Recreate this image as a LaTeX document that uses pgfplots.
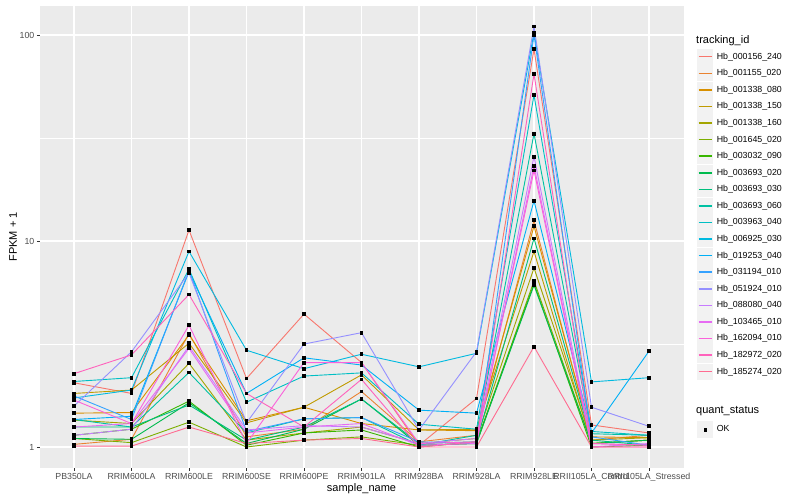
\documentclass[border=0pt]{standalone}
\usepackage{fontspec}
\setmainfont{Liberation Sans}
\usepackage{pgfplots}
\usepackage{pgfplotstable}
\pgfplotsset{compat=1.18}

\definecolor{c1}{HTML}{F8766D}
\definecolor{c2}{HTML}{EA8331}
\definecolor{c3}{HTML}{D89000}
\definecolor{c4}{HTML}{C09B00}
\definecolor{c5}{HTML}{A3A500}
\definecolor{c6}{HTML}{7CAE00}
\definecolor{c7}{HTML}{39B600}
\definecolor{c8}{HTML}{00BB4E}
\definecolor{c9}{HTML}{00BF7D}
\definecolor{c10}{HTML}{00C1A3}
\definecolor{c11}{HTML}{00BFC4}
\definecolor{c12}{HTML}{00BAE0}
\definecolor{c13}{HTML}{00B0F6}
\definecolor{c14}{HTML}{35A2FF}
\definecolor{c15}{HTML}{9590FF}
\definecolor{c16}{HTML}{C77CFF}
\definecolor{c17}{HTML}{E76BF3}
\definecolor{c18}{HTML}{FA62DB}
\definecolor{c19}{HTML}{FF62BC}
\definecolor{c20}{HTML}{FF6C91}
\definecolor{panel}{HTML}{EBEBEB}
\definecolor{keybg}{HTML}{F2F2F2}
\definecolor{ticklab}{HTML}{4D4D4D}
\definecolor{tickcol}{HTML}{333333}

% FPKM + 1 per sample (rows) and tracking id (columns)
\pgfplotstableread{
x  s1   s2   s3   s4   s5   s6   s7   s8   s9   s10  s11  s12  s13  s14  s15  s16  s17  s18  s19  s20
0  2.05 1.03 1.46 1.82 1.35 1.10 1.14 1.10 1.25 1.36 2.08 1.73 1.36 1.77 1.58 1.14 1.25 1.69 2.27 1.01
1  1.82 1.09 1.47 1.89 1.30 1.05 1.22 1.09 1.25 1.25 2.17 1.89 1.41 1.36 2.90 1.22 1.30 1.30 2.80 1.01
2  11.3 3.56 3.50 3.19 2.55 1.32 1.67 1.64 1.60 2.30 7.3  8.9  7.1  7.2  7.0  3.09 3.01 3.9  5.5  1.25
3  2.15 1.12 1.34 1.31 1.08 1.00 1.02 1.04 1.08 1.17 1.65 2.95 1.82 1.19 1.31 1.21 1.17 1.04 1.82 1.04
4  4.42 1.22 1.56 1.56 1.17 1.08 1.17 1.22 1.25 1.37 2.21 2.40 2.71 1.37 3.16 1.27 1.25 2.57 1.25 1.08
5  2.57 1.86 1.30 2.24 1.25 1.12 1.21 1.71 1.71 1.39 2.29 2.82 2.50 1.39 3.59 1.25 1.30 2.57 2.13 1.10
6  1.02 1.06 1.21 1.21 1.04 1.02 1.00 1.02 1.04 1.02 1.29 2.45 1.51 1.06 1.21 1.04 1.02 1.04 1.00 1.00
7  1.72 1.14 1.20 1.22 1.10 1.04 1.06 1.04 1.06 1.14 1.22 2.85 1.46 1.04 2.90 1.10 1.04 1.06 1.06 1.00
8  85.5 12.6 11.8 8.9  7.4  6.4  6.2  6.1  10.3 33.2 51.1 103  15.7 100  110  25.7 23.2 22.0 64.7 3.07
9  1.28 1.08 1.12 1.04 1.08 1.04 1.00 1.04 1.08 1.16 1.19 2.07 1.17 1.12 1.56 1.04 1.00 1.00 1.04 1.00
10 1.17 1.14 1.11 1.08 1.11 1.08 1.02 1.08 1.02 1.14 1.14 2.17 2.92 1.02 1.26 1.02 1.04 1.00 1.02 1.00
}\fpkm

\begin{document}
\begin{tikzpicture}
\useasboundingbox (0,0) rectangle (800pt,500pt);

\begin{axis}[
	at={(39.5pt,32pt)},
	anchor=south west,
	width=644pt,
	height=462pt,
	scale only axis,
	xmin=-0.6, xmax=10.6,
	ymode=log,
	ymin=0.791, ymax=138.3,
	xtick={0,...,10},
	xticklabels={PB350LA,RRIM600LA,RRIM600LE,RRIM600SE,RRIM600PE,RRIM901LA,RRIM928BA,RRIM928LA,RRIM928LE,RRII105LA\_Control,RRII105LA\_Stressed},
	ytick={1,10,100},
	yticklabels={1,10,100},
	minor ytick={3.1623,31.623},
	axis background/.style={fill=panel},
	axis line style={draw=none},
	xmajorgrids, ymajorgrids, yminorgrids,
	major grid style={white, line width=1.07pt},
	minor grid style={white, line width=0.53pt},
	tick pos=left,
	tick align=outside,
	major tick length=2.75pt,
	minor tick length=0pt,
	tick style={tickcol, line width=0.5pt},
	ticklabel style={font=\fontsize{8.8}{10}\selectfont, text=ticklab},
	xticklabel style={inner sep=0pt, yshift=-2.5pt, anchor=north},
	yticklabel style={inner sep=0pt, xshift=-2.2pt, anchor=east},
	xlabel={sample\_name},
	ylabel={FPKM + 1},
	label style={font=\fontsize{11}{13}\selectfont},
	xlabel style={at={(axis description cs:0.5,-0.0498)}, anchor=base, inner sep=0pt},
	ylabel style={at={(axis description cs:-0.0411,0.5)}, anchor=center, inner sep=0pt},
	every axis plot/.append style={line width=0.9pt, mark=square*, mark size=1.4pt, mark options={draw=black, fill=black, solid}},
	legend image code/.code={
		\path[draw=none, fill=keybg] (0pt,-8.14pt) rectangle (16.28pt,8.14pt);
		\draw[#1, line width=1.5pt] (1.63pt,0pt) -- (14.65pt,0pt);
	},
	legend cell align=left,
	legend style={at={(axis description cs:1.0210,0.9079)}, anchor=north west,
		draw=none, fill=none, inner sep=0pt, outer sep=0pt,
		row sep=0.3pt, column sep=3.5pt,
		font=\fontsize{8.8}{10}\selectfont,
		nodes={inner sep=0pt}},
]
\addplot[c1]  table[x=x,y=s1]  {\fpkm}; \addlegendentry{Hb\_000156\_240}
\addplot[c2]  table[x=x,y=s2]  {\fpkm}; \addlegendentry{Hb\_001155\_020}
\addplot[c3]  table[x=x,y=s3]  {\fpkm}; \addlegendentry{Hb\_001338\_080}
\addplot[c4]  table[x=x,y=s4]  {\fpkm}; \addlegendentry{Hb\_001338\_150}
\addplot[c5]  table[x=x,y=s5]  {\fpkm}; \addlegendentry{Hb\_001338\_160}
\addplot[c6]  table[x=x,y=s6]  {\fpkm}; \addlegendentry{Hb\_001645\_020}
\addplot[c7]  table[x=x,y=s7]  {\fpkm}; \addlegendentry{Hb\_003032\_090}
\addplot[c8]  table[x=x,y=s8]  {\fpkm}; \addlegendentry{Hb\_003693\_020}
\addplot[c9]  table[x=x,y=s9]  {\fpkm}; \addlegendentry{Hb\_003693\_030}
\addplot[c10] table[x=x,y=s10] {\fpkm}; \addlegendentry{Hb\_003693\_060}
\addplot[c11] table[x=x,y=s11] {\fpkm}; \addlegendentry{Hb\_003963\_040}
\addplot[c12] table[x=x,y=s12] {\fpkm}; \addlegendentry{Hb\_006925\_030}
\addplot[c13] table[x=x,y=s13] {\fpkm}; \addlegendentry{Hb\_019253\_040}
\addplot[c14] table[x=x,y=s14] {\fpkm}; \addlegendentry{Hb\_031194\_010}
\addplot[c15] table[x=x,y=s15] {\fpkm}; \addlegendentry{Hb\_051924\_010}
\addplot[c16] table[x=x,y=s16] {\fpkm}; \addlegendentry{Hb\_088080\_040}
\addplot[c17] table[x=x,y=s17] {\fpkm}; \addlegendentry{Hb\_103465\_010}
\addplot[c18] table[x=x,y=s18] {\fpkm}; \addlegendentry{Hb\_162094\_010}
\addplot[c19] table[x=x,y=s19] {\fpkm}; \addlegendentry{Hb\_182972\_020}
\addplot[c20] table[x=x,y=s20] {\fpkm}; \addlegendentry{Hb\_185274\_020}
\end{axis}

% second legend: quant_status
\begin{axis}[
	at={(39.5pt,32pt)},
	anchor=south west,
	width=644pt,
	height=462pt,
	scale only axis,
	hide axis,
	xmin=0, xmax=1, ymin=0, ymax=1,
	legend image code/.code={
		\path[draw=none, fill=keybg] (0pt,-8.14pt) rectangle (16.28pt,8.14pt);
		\draw[#1] plot coordinates {(8.14pt,0pt)};
	},
	legend cell align=left,
	legend style={at={(axis description cs:1.0210,0.1012)}, anchor=north west,
		draw=none, fill=none, inner sep=0pt, outer sep=0pt,
		row sep=0.3pt, column sep=3.5pt,
		font=\fontsize{8.8}{10}\selectfont,
		nodes={inner sep=0pt}},
]
\addplot[draw=none, mark=none, forget plot] coordinates {(0,0) (1,1)};
\addlegendimage{only marks, mark=square*, mark size=1.4pt, draw=black, fill=black}
\addlegendentry{OK}
\end{axis}

\node[anchor=base west, inner sep=0pt, font=\fontsize{11}{13}\selectfont] at (696pt,456.5pt) {tracking\_id};
\node[anchor=base west, inner sep=0pt, font=\fontsize{11}{13}\selectfont] at (696pt,86pt) {quant\_status};
\end{tikzpicture}
\end{document}
